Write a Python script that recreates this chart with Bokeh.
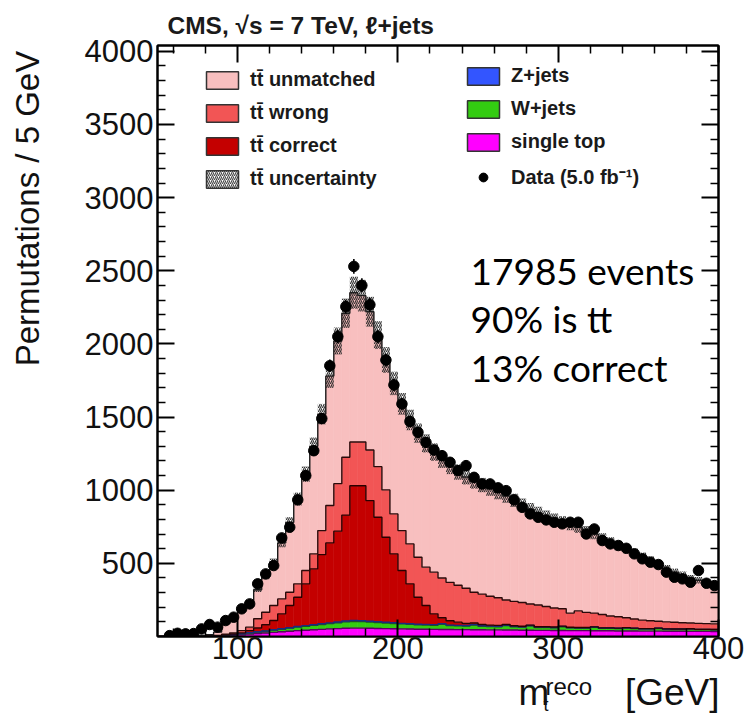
import math
import numpy as np
from bokeh.plotting import figure
from bokeh.layouts import row, column
from bokeh.models import (Range1d, FixedTicker, LinearAxis, Label, Legend, LegendItem,
                          CustomJSTickFormatter)
from bokeh.embed import file_html
from bokeh.resources import INLINE

# ---------------- data (5 GeV bins, 50-400 GeV) ----------------
bin_low = list(range(50, 400, 5))

data_counts = [0, 6, 22, 18, 20, 52, 82, 64, 109, 132,
               189, 223, 360, 428, 485, 674, 747, 934, 1100, 1270,
               1490, 1851, 2050, 2255, 2530, 2400, 2268, 2050, 1890, 1720,
               1590, 1470, 1396, 1327, 1275, 1236, 1191, 1134, 1168, 1088,
               1043, 1043, 1016, 997, 934, 883, 838, 815, 797, 781,
               770, 781, 781, 701, 735, 656, 633, 622, 603, 565,
               531, 508, 492, 440, 405, 394, 371, 451, 364, 348]

single_top = [0, 0, 0, 0, 1, 2, 3, 4, 6, 9,
              12, 16, 20, 24, 28, 32, 36, 40, 43, 46,
              49, 52, 54, 56, 57, 57, 56, 55, 54, 53,
              52, 51, 50, 50, 49, 48, 48, 47, 47, 46,
              46, 45, 45, 44, 44, 43, 43, 42, 42, 41,
              41, 40, 40, 40, 39, 39, 39, 38, 38, 38,
              37, 37, 37, 36, 36, 36, 35, 35, 35, 34]

w_jets = [0, 0, 0, 0, 0, 1, 1, 2, 3, 4,
          6, 8, 10, 12, 15, 18, 21, 24, 27, 30,
          33, 36, 40, 44, 46, 45, 43, 41, 38, 36,
          34, 32, 30, 29, 28, 35, 27, 26, 25, 32,
          24, 23, 22, 30, 22, 21, 30, 20, 20, 19,
          26, 19, 18, 18, 24, 17, 17, 16, 20, 16,
          15, 15, 18, 14, 14, 14, 17, 13, 13, 13]

z_jets = [0, 0, 0, 0, 0, 0, 0, 0, 1, 1,
          1, 2, 2, 2, 3, 3, 3, 4, 4, 4,
          5, 5, 5, 6, 6, 6, 5, 5, 5, 5,
          4, 4, 4, 4, 4, 4, 3, 3, 3, 3,
          3, 3, 3, 3, 3, 2, 2, 2, 2, 2,
          2, 2, 2, 2, 2, 2, 2, 2, 2, 2,
          1, 1, 1, 1, 1, 1, 1, 1, 1, 1]

tt_correct = [0, 0, 0, 0, 0, 0, 0, 0, 2, 3,
              6, 14, 26, 42, 63, 102, 152, 200, 286, 382,
              473, 547, 621, 724, 922, 923, 825, 714, 581, 471,
              361, 273, 184, 129, 74, 41, 30, 22, 15, 11,
              9, 7, 6, 5, 4, 4, 3, 3, 3, 3,
              2, 2, 2, 2, 1, 1, 1, 1, 1, 1,
              1, 1, 1, 1, 0, 0, 0, 0, 0, 0]

tt_wrong = [0, 0, 0, 0, 0, 0, 0, 2, 3, 8,
            15, 24, 63, 86, 103, 102, 91, 92, 91, 103,
            164, 255, 325, 395, 299, 299, 346, 346, 324, 273,
            273, 273, 274, 262, 285, 272, 262, 252, 240, 211,
            208, 197, 189, 168, 167, 162, 144, 148, 138, 130,
            119, 97, 113, 103, 94, 91, 81, 78, 67, 63,
            58, 54, 47, 48, 46, 43, 39, 41, 39, 38]

tt_unmatched = [0, 1, 2, 3, 4, 5, 8, 22, 73, 100,
                135, 176, 199, 244, 298, 383, 477, 580, 659, 735,
                796, 885, 975, 985, 1020, 1000, 945, 899, 888, 892,
                866, 847, 848, 846, 820, 810, 795, 775, 760, 757,
                745, 735, 720, 710, 690, 668, 648, 630, 615, 605,
                595, 605, 570, 555, 540, 522, 505, 487, 472, 452,
                433, 412, 391, 362, 343, 326, 306, 295, 282, 269]

tt_uncertainty = [0, 0, 1, 1, 1, 2, 2, 3, 5, 7,
                  9, 12, 15, 19, 24, 30, 36, 44, 52, 60,
                  70, 80, 92, 100, 110, 108, 102, 95, 88, 80,
                  74, 70, 66, 62, 60, 57, 55, 53, 51, 50,
                  49, 48, 47, 46, 45, 44, 43, 42, 41, 40,
                  39, 38, 37, 36, 35, 34, 33, 32, 31, 30,
                  29, 28, 27, 26, 25, 24, 23, 22, 21, 20]

x_ticks = [100, 200, 300, 400]
y_ticks = [500, 1000, 1500, 2000, 2500, 3000, 3500, 4000]

# ---------------- geometry (canvas pixels) ----------------
W, H = 748, 717
YT_W = 50            # strip holding the y-axis title
XT_H = 46            # strip holding the x-axis title
FL, FR, FT, FB = 157, 718, 45, 636
X0, X1 = 50, 400
Y0, Y1 = 0, 4040
FONT = "Liberation Sans"


def X(px):
    return X0 + (px - FL) * (X1 - X0) / (FR - FL)


def Y(py):
    return Y0 + (FB - py) * (Y1 - Y0) / (FB - FT)


bin_high = [b + 5 for b in bin_low]
centers = [b + 2.5 for b in bin_low]
edges = bin_low + [bin_high[-1]]

MAIN_W, MAIN_H = W - YT_W, H - XT_H
p = figure(width=MAIN_W, height=MAIN_H, output_backend="svg", toolbar_location=None,
           x_range=Range1d(X0, X1), y_range=Range1d(Y0, Y1),
           min_border_left=FL - YT_W, min_border_right=W - FR,
           min_border_top=FT, min_border_bottom=MAIN_H - FB,
           x_axis_location=None, y_axis_location=None)
p.background_fill_color = "white"
p.border_fill_color = "white"
p.outline_line_color = "black"
p.outline_line_width = 2
p.xgrid.visible = False
p.ygrid.visible = False

layers = [
    (single_top, "#FF00FF", "#5a0060"),
    (w_jets, "#33CC11", "#1d5a10"),
    (z_jets, "#3355FF", "#1a2a80"),
    (tt_correct, "#C40000", "#2a0000"),
    (tt_wrong, "#F25555", "#2a0a0a"),
    (tt_unmatched, "#F8BFBF", "#1a1a1a"),
]

cum = np.zeros(len(bin_low))
tops = []
for vals, fc, lc in layers:
    bottom = cum.copy()
    cum = cum + np.array(vals, dtype=float)
    p.quad(left=bin_low, right=bin_high, bottom=list(bottom), top=list(cum),
           fill_color=fc, line_color=fc, line_width=0.6)
    tops.append((cum.copy(), lc))

for t, lc in tops:
    p.step(x=edges, y=list(t) + [t[-1]], mode="after", line_color=lc, line_width=1.4)

total = tops[-1][0]
unc = np.array(tt_uncertainty, dtype=float)
p.quad(left=bin_low, right=bin_high, bottom=list(total - unc), top=list(total + unc),
       fill_alpha=0, line_alpha=0, hatch_pattern="/", hatch_color="#222222",
       hatch_alpha=0.9, hatch_scale=4, hatch_weight=1.2)

# data points with statistical error bars
dc = [c for c, d in zip(centers, data_counts) if d > 0]
dd = [d for d in data_counts if d > 0]
p.segment(x0=dc, y0=[d - math.sqrt(d) for d in dd], x1=dc, y1=[d + math.sqrt(d) for d in dd],
          line_color="black", line_width=1.6)
data_r = p.scatter(dc, dd, size=10.5, fill_color="black", line_color="black")

# ---------------- axes ----------------
x_minor = [v for v in range(60, 400, 20) if v % 100 != 0]
y_minor = [v for v in range(100, 4001, 100) if v % 500 != 0]
xt = FixedTicker(ticks=x_ticks, minor_ticks=x_minor)
yt = FixedTicker(ticks=y_ticks, minor_ticks=y_minor)
blank = CustomJSTickFormatter(code="return ''")

common = dict(axis_line_width=2, major_tick_in=17, major_tick_out=0,
              minor_tick_in=8, minor_tick_out=0, major_tick_line_width=2,
              minor_tick_line_width=1.5)
ax_b = LinearAxis(ticker=xt, major_label_text_font=FONT,
                  major_label_text_font_size="31px", major_label_standoff=0,
                  major_label_text_color="#111111", **common)
ax_l = LinearAxis(ticker=yt, major_label_text_font=FONT,
                  major_label_text_font_size="31px", major_label_standoff=4,
                  major_label_text_color="#111111", **common)
ax_t = LinearAxis(ticker=xt, formatter=blank, major_label_standoff=0, **common)
ax_r = LinearAxis(ticker=yt, formatter=blank, major_label_standoff=0, **common)
p.add_layout(ax_b, "below")
p.add_layout(ax_l, "left")
p.add_layout(ax_t, "above")
p.add_layout(ax_r, "right")

# header
p.title.text = "CMS,  \u221As = 7 TeV, \u2113+jets"
p.title.text_font = FONT
p.title.text_font_style = "bold"
p.title.text_font_size = "24.5px"
p.title.text_color = "#1a1a1a"
p.title.align = "left"
p.title.offset = 10
p.title.standoff = 14

# ---------------- legends ----------------
nan = float("nan")


def box(fc, **kw):
    return p.quad(left=[nan], right=[nan], bottom=[nan], top=[nan], fill_color=fc,
                  line_color="#333333", line_width=1.5, **kw)


r_unm = box("#F8BFBF")
r_wrong = box("#F25555")
r_corr = box("#C40000")
r_unc = box("white", hatch_pattern="/", hatch_color="#444444", hatch_scale=4, hatch_weight=1.1)
r_z = box("#3355FF")
r_w = box("#33CC11")
r_st = box("#FF00FF")

leg_style = dict(glyph_width=40, glyph_height=22, label_height=22,
                 label_text_font=FONT, label_text_font_style="bold",
                 label_text_font_size="20px", label_text_color="#1a1a1a",
                 label_standoff=8, spacing=10, padding=0, margin=0,
                 border_line_alpha=0, background_fill_alpha=0)
tt = "tt\u0304"
leg1 = Legend(items=[LegendItem(label=tt + " unmatched", renderers=[r_unm]),
                     LegendItem(label=tt + " wrong", renderers=[r_wrong]),
                     LegendItem(label=tt + " correct", renderers=[r_corr]),
                     LegendItem(label=tt + " uncertainty", renderers=[r_unc])],
              location=(202 - FL, FB - 190), **leg_style)
leg2 = Legend(items=[LegendItem(label="Z+jets", renderers=[r_z]),
                     LegendItem(label="W+jets", renderers=[r_w]),
                     LegendItem(label="single top", renderers=[r_st]),
                     LegendItem(label="Data (5.0 fb\u207B\u00B9)", renderers=[data_r])],
              location=(463 - FL, FB - 190), **leg_style)
p.add_layout(leg1)
p.add_layout(leg2)

# in-frame annotation
for txt, base in [("17985 events", 270), ("90% is tt", 318), ("13% correct", 367)]:
    p.add_layout(Label(x=X(470), y=Y(base), text=txt, text_font="Lato",
                       text_font_size="37px", text_color="black",
                       text_baseline="alphabetic", text_align="left"))


# ---------------- title strips (their own frames, coordinates = canvas px) ----------------
def strip(w, h, xr, yr):
    f = figure(width=w, height=h, output_backend="svg", toolbar_location=None,
               x_range=Range1d(*xr), y_range=Range1d(*yr),
               x_axis_location=None, y_axis_location=None,
               min_border_left=0, min_border_right=0, min_border_top=0, min_border_bottom=0)
    f.outline_line_color = None
    f.xgrid.visible = False
    f.ygrid.visible = False
    f.background_fill_color = "white"
    f.border_fill_color = "white"
    return f


yfig = strip(YT_W, MAIN_H, (0, YT_W), (MAIN_H, 0))
yfig.add_layout(Label(x=8, y=6, text="Permutations / 5 GeV", angle=math.pi / 2,
                      text_font=FONT, text_font_size="33px", text_color="#111111",
                      text_baseline="top", text_align="right"))

xfig = strip(W, XT_H, (0, W), (H, H - XT_H))
xfig.add_layout(Label(x=719, y=692, text="[GeV]", text_font=FONT, text_font_size="37px",
                      text_color="#111111", text_baseline="alphabetic", text_align="right"))
xfig.add_layout(Label(x=518, y=692, text="m", text_font=FONT, text_font_size="37px",
                      text_color="#111111", text_baseline="alphabetic", text_align="left"))
xfig.add_layout(Label(x=545, y=686, text="reco", text_font=FONT, text_font_size="24px",
                      text_color="#111111", text_baseline="alphabetic", text_align="left"))
xfig.add_layout(Label(x=543, y=704, text="t", text_font=FONT, text_font_size="18px",
                      text_color="#111111", text_baseline="alphabetic", text_align="left"))

layout = column(row(yfig, p, spacing=0), xfig, spacing=0)
open("out.html", "w").write(file_html(layout, INLINE))
